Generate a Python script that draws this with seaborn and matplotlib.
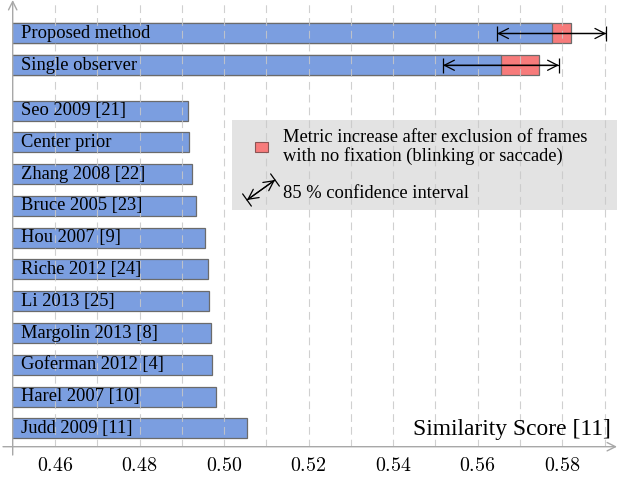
import matplotlib
matplotlib.use('Agg')
import matplotlib.pyplot as plt
import seaborn as sns
from matplotlib.patches import Rectangle

# scores
methods = ['Proposed method', 'Single observer', 'Seo 2009 [21]', 'Center prior',
           'Zhang 2008 [22]', 'Bruce 2005 [23]', 'Hou 2007 [9]', 'Riche 2012 [24]',
           'Li 2013 [25]', 'Margolin 2013 [8]', 'Goferman 2012 [4]', 'Harel 2007 [10]',
           'Judd 2009 [11]']
scores = [0.5775, 0.5655, 0.4915, 0.4916, 0.4923, 0.4933, 0.4956, 0.4961,
          0.4965, 0.4969, 0.4972, 0.4982, 0.5054]
row_pos = [12.43, 11.43, 10, 9, 8, 7, 6, 5, 4, 3, 2, 1, 0]

# our two methods: increase without blink/saccade frames and 85 % CI half-width
ours_pos = [12.43, 11.43]
ours_score = [0.5775, 0.5655]
ours_increase = [0.0045, 0.0091]
ours_ci = [0.0129, 0.0137]

xticks = [0.46, 0.48, 0.50, 0.52, 0.54, 0.56, 0.58]

blue = '#7b9ee0'
red = '#f77b7b'
edge = '#6b6b6b'
axis_grey = '#a8a8a8'

sns.set_style('white')
plt.rcParams['font.family'] = ['Liberation Serif', 'DejaVu Serif']
plt.rcParams['mathtext.fontset'] = 'cm'
plt.rcParams['text.color'] = 'black'

W, H = 618, 479
fig = plt.figure(figsize=(W / 100, H / 100), dpi=100)
left, right, top, bottom = 12.7, 612, 3, 446.7
ax = fig.add_axes([left / W, 1 - bottom / H, (right - left) / W, (bottom - top) / H])

# red increase first, blue score drawn over it
totals = [s + d for s, d in zip(ours_score, ours_increase)]
sns.barplot(x=totals, y=ours_pos, orient='y', native_scale=True, width=0.63,
            color=red, saturation=1, edgecolor=edge, linewidth=0.9, ax=ax, zorder=2)
sns.barplot(x=scores, y=row_pos, orient='y', native_scale=True, width=0.63,
            color=blue, saturation=1, edgecolor=edge, linewidth=0.9, ax=ax, zorder=2)

# confidence intervals
ax.errorbar(ours_score, ours_pos, xerr=ours_ci, fmt='none', ecolor='black',
            elinewidth=0.9, capsize=5.4, capthick=0.9, zorder=5)
for s, y, c in zip(ours_score, ours_pos, ours_ci):
    ax.annotate('', xy=(s - c, y), xytext=(s + c, y),
                arrowprops=dict(arrowstyle='<->,head_length=0.55,head_width=0.28',
                                color='black', lw=0.9, shrinkA=0, shrinkB=0,
                                mutation_scale=13), zorder=5)

for name, y in zip(methods, row_pos):
    ax.text(0.452, y, name, va='center', ha='left', fontsize=13.3, color='black', zorder=6)

ax.set_xlim(0.45, 0.45 + (right - left) / 4227.5)
ax.set_ylim(-0.579, 13.39)

# dashed grid every 0.01, on top of the bars
for g in range(1, 15):
    ax.axvline(0.45 + g * 0.01, color='#c8c8c8', lw=0.8, ls=(0, (7, 4.5)),
               alpha=0.85, zorder=3)

ax.set_xticks(xticks)
ax.set_xticklabels([f'${v:.2f}$' for v in xticks], fontsize=14.4)
ax.tick_params(axis='x', direction='inout', length=5, width=0.8, color='#333333',
               labelcolor='black', pad=5)
ax.set_yticks([])
ax.set(xlabel='', ylabel='')
for sp in ax.spines.values():
    sp.set_visible(False)

# axis lines with open arrow heads
aw = right - left
ah = bottom - top
ax.annotate('', xy=((W - 1 - left) / aw, 0), xytext=((3 - left) / aw, 0),
            xycoords='axes fraction', textcoords='axes fraction',
            arrowprops=dict(arrowstyle='->,head_length=0.5,head_width=0.25', color=axis_grey,
                            lw=1, shrinkA=0, shrinkB=0, mutation_scale=12), zorder=4)
ax.annotate('', xy=(0, (bottom - 0) / ah), xytext=(0, (bottom - 455) / ah),
            xycoords='axes fraction', textcoords='axes fraction',
            arrowprops=dict(arrowstyle='->,head_length=0.5,head_width=0.25', color=axis_grey,
                            lw=1, shrinkA=0, shrinkB=0, mutation_scale=12), zorder=4)

ax.text((611 - left) / aw, (bottom - 430) / ah, 'Similarity Score [11]',
        transform=ax.transAxes, ha='right', va='center', fontsize=16.9,
        color='black', zorder=6)

# legend box
def fx(px):
    return px / W

def fy(py):
    return 1 - py / H

ax.add_patch(Rectangle((fx(232), fy(210)), fx(617) - fx(232), fy(120) - fy(210),
                       transform=fig.transFigure, facecolor='#e3e3e3', edgecolor='none',
                       clip_on=False, zorder=2.5))
ax.add_patch(Rectangle((fx(255), fy(152)), fx(268) - fx(255), fy(142) - fy(152),
                       transform=fig.transFigure, facecolor=red, edgecolor='#8a5555',
                       lw=0.8, clip_on=False, zorder=6))
ax.text(fx(283), fy(147), 'Metric increase after exclusion of frames\nwith no fixation (blinking or saccade)',
        transform=fig.transFigure, ha='left', va='center', fontsize=13.3,
        linespacing=1.08, color='black', zorder=6)
ax.text(fx(283), fy(193), '85 % confidence interval', transform=fig.transFigure,
        ha='left', va='center', fontsize=13.3, color='black', zorder=6)
for style, ms in [('<->,head_length=0.55,head_width=0.28', 13),
                  ('|-|,widthA=0.27,widthB=0.27', 20)]:
    ax.annotate('', xy=(247, H - 200), xytext=(275, H - 180),
                xycoords='figure pixels', textcoords='figure pixels',
                arrowprops=dict(arrowstyle=style, color='black', lw=0.9,
                                shrinkA=0, shrinkB=0, mutation_scale=ms),
                zorder=6)

fig.savefig('out.png', dpi=100)
